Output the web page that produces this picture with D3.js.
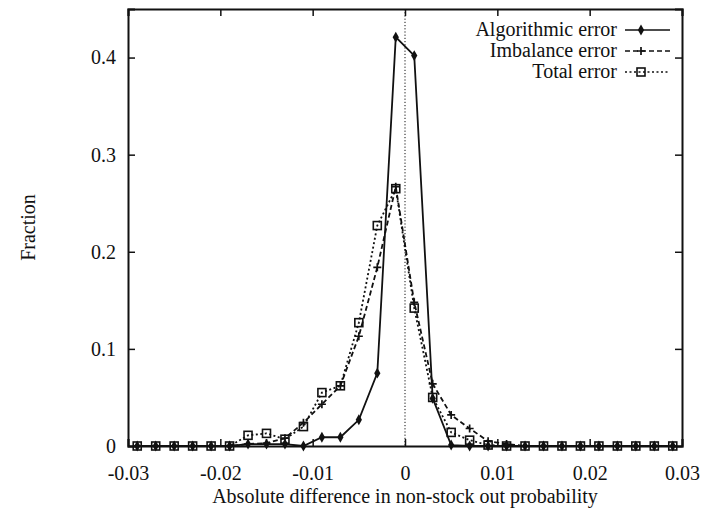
<!DOCTYPE html>
<html lang="en">
<head>
  <meta charset="utf-8">
  <title>Error distribution</title>
  <script src="https://d3js.org/d3.v7.min.js"></script>
  <style>
    body { margin: 0; background: #fff; }
    svg { display: block; }
    text { font-family: "Liberation Serif", "Times New Roman", serif; font-size: 20px; fill: #111; }
  </style>
</head>
<body>
  <svg id="chart" width="705" height="508"></svg>
  <script>
    // bin centres on the x axis
    const binCentres = [
      -0.029, -0.027, -0.025, -0.023, -0.021, -0.019, -0.017, -0.015, -0.013, -0.011,
      -0.009, -0.007, -0.005, -0.003, -0.001, 0.001, 0.003, 0.005, 0.007, 0.009,
      0.011, 0.013, 0.015, 0.017, 0.019, 0.021, 0.023, 0.025, 0.027, 0.029
    ];
    const algorithmic = [
      0, 0, 0, 0, 0, 0, 0.002, 0.002, 0.002, 0,
      0.009, 0.009, 0.027, 0.075, 0.421, 0.402, 0.049, 0.001, 0, 0,
      0, 0, 0, 0, 0, 0, 0, 0, 0, 0
    ];
    const imbalance = [
      0, 0, 0, 0, 0, 0, 0.002, 0.003, 0.008, 0.024,
      0.043, 0.062, 0.113, 0.184, 0.267, 0.148, 0.064, 0.032, 0.018, 0.005,
      0.002, 0, 0, 0, 0, 0, 0, 0, 0, 0
    ];
    const total = [
      0, 0, 0, 0, 0, 0, 0.011, 0.013, 0.007, 0.020,
      0.055, 0.062, 0.127, 0.227, 0.265, 0.142, 0.050, 0.014, 0.006, 0.001,
      0, 0, 0, 0, 0, 0, 0, 0, 0, 0
    ];
    const xTicks = [-0.03, -0.02, -0.01, 0, 0.01, 0.02, 0.03];
    const yTicks = [0, 0.1, 0.2, 0.3, 0.4];

    const margin = { top: 9, right: 23, bottom: 62, left: 128 };
    const W = 705, H = 508;
    const w = W - margin.left - margin.right;
    const h = H - margin.top - margin.bottom;

    const svg = d3.select("#chart");
    const g = svg.append("g").attr("transform", `translate(${margin.left},${margin.top})`);

    const x = d3.scaleLinear().domain([-0.03, 0.03]).range([0, w]);
    const y = d3.scaleLinear().domain([0, 0.45]).range([h, 0]);

    // plain hyphen as minus sign, like the original
    const fmt = d3.formatLocale({ decimal: ".", thousands: ",", grouping: [3], currency: ["", ""], minus: "-" });

    // axes: ticks pointing inwards, mirrored on top and right
    const tickLen = 7;
    g.append("g").attr("transform", `translate(0,${h})`)
      .call(d3.axisBottom(x).tickValues(xTicks).tickSize(-tickLen).tickPadding(20)
        .tickFormat(d => d === 0 ? "0" : fmt.format(".2f")(d)));
    g.append("g")
      .call(d3.axisTop(x).tickValues(xTicks).tickSize(-tickLen).tickFormat(""));
    g.append("g")
      .call(d3.axisLeft(y).tickValues(yTicks).tickSize(-tickLen).tickPadding(12)
        .tickFormat(d => d === 0 ? "0" : fmt.format(".1f")(d)));
    g.append("g").attr("transform", `translate(${w},0)`)
      .call(d3.axisRight(y).tickValues(yTicks).tickSize(-tickLen).tickFormat(""));

    g.selectAll(".domain").attr("stroke", "#111").attr("stroke-width", 2);
    g.selectAll(".tick line").attr("stroke", "#111").attr("stroke-width", 1.5);
    g.selectAll(".tick text").style("font-size", "20px").attr("fill", "#111");

    // dotted zero line
    g.append("line")
      .attr("x1", x(0)).attr("x2", x(0))
      .attr("y1", 0).attr("y2", h)
      .attr("stroke", "#111").attr("stroke-width", 1)
      .attr("stroke-dasharray", "1.2,2");

    // axis titles
    svg.append("text")
      .attr("x", margin.left + w / 2).attr("y", 503)
      .attr("text-anchor", "middle")
      .text("Absolute difference in non-stock out probability");
    svg.append("text")
      .attr("transform", `translate(35,${margin.top + h / 2}) rotate(-90)`)
      .attr("text-anchor", "middle")
      .text("Fraction");

    const series = [
      { name: "Algorithmic error", values: algorithmic, dash: null, marker: "diamond" },
      { name: "Imbalance error", values: imbalance, dash: "5,3", marker: "plus" },
      { name: "Total error", values: total, dash: "2,2.5", marker: "square" }
    ];

    const line = d3.line()
      .x(d => x(d[0]))
      .y(d => y(d[1]));

    function drawMarker(sel, type, cx, cy) {
      if (type === "diamond") {
        sel.append("path")
          .attr("d", d3.symbol(d3.symbolDiamond, 34)())
          .attr("transform", `translate(${cx},${cy})`)
          .attr("fill", "#111");
      } else if (type === "plus") {
        sel.append("path")
          .attr("d", `M${cx - 4},${cy}H${cx + 4}M${cx},${cy - 4}V${cy + 4}`)
          .attr("stroke", "#111").attr("stroke-width", 1.7);
      } else {
        sel.append("rect")
          .attr("x", cx - 4).attr("y", cy - 4)
          .attr("width", 8).attr("height", 8)
          .attr("fill", "none").attr("stroke", "#111").attr("stroke-width", 1.6);
      }
    }

    series.forEach(s => {
      const pts = binCentres.map((c, i) => [c, s.values[i]]);
      g.append("path")
        .attr("d", line(pts))
        .attr("fill", "none")
        .attr("stroke", "#111")
        .attr("stroke-width", 1.8)
        .attr("stroke-dasharray", s.dash);
      const mg = g.append("g");
      pts.forEach(p => drawMarker(mg, s.marker, x(p[0]), y(p[1])));
    });

    // legend, top right inside the frame
    const legend = svg.append("g");
    series.forEach((s, i) => {
      const ly = 30 + i * 21;
      legend.append("text")
        .attr("x", 617).attr("y", ly + 6)
        .attr("text-anchor", "end")
        .text(s.name);
      legend.append("line")
        .attr("x1", 625).attr("x2", 670)
        .attr("y1", ly).attr("y2", ly)
        .attr("stroke", "#111").attr("stroke-width", 1.5)
        .attr("stroke-dasharray", s.dash);
      drawMarker(legend, s.marker, 641, ly);
    });
  </script>
</body>
</html>
